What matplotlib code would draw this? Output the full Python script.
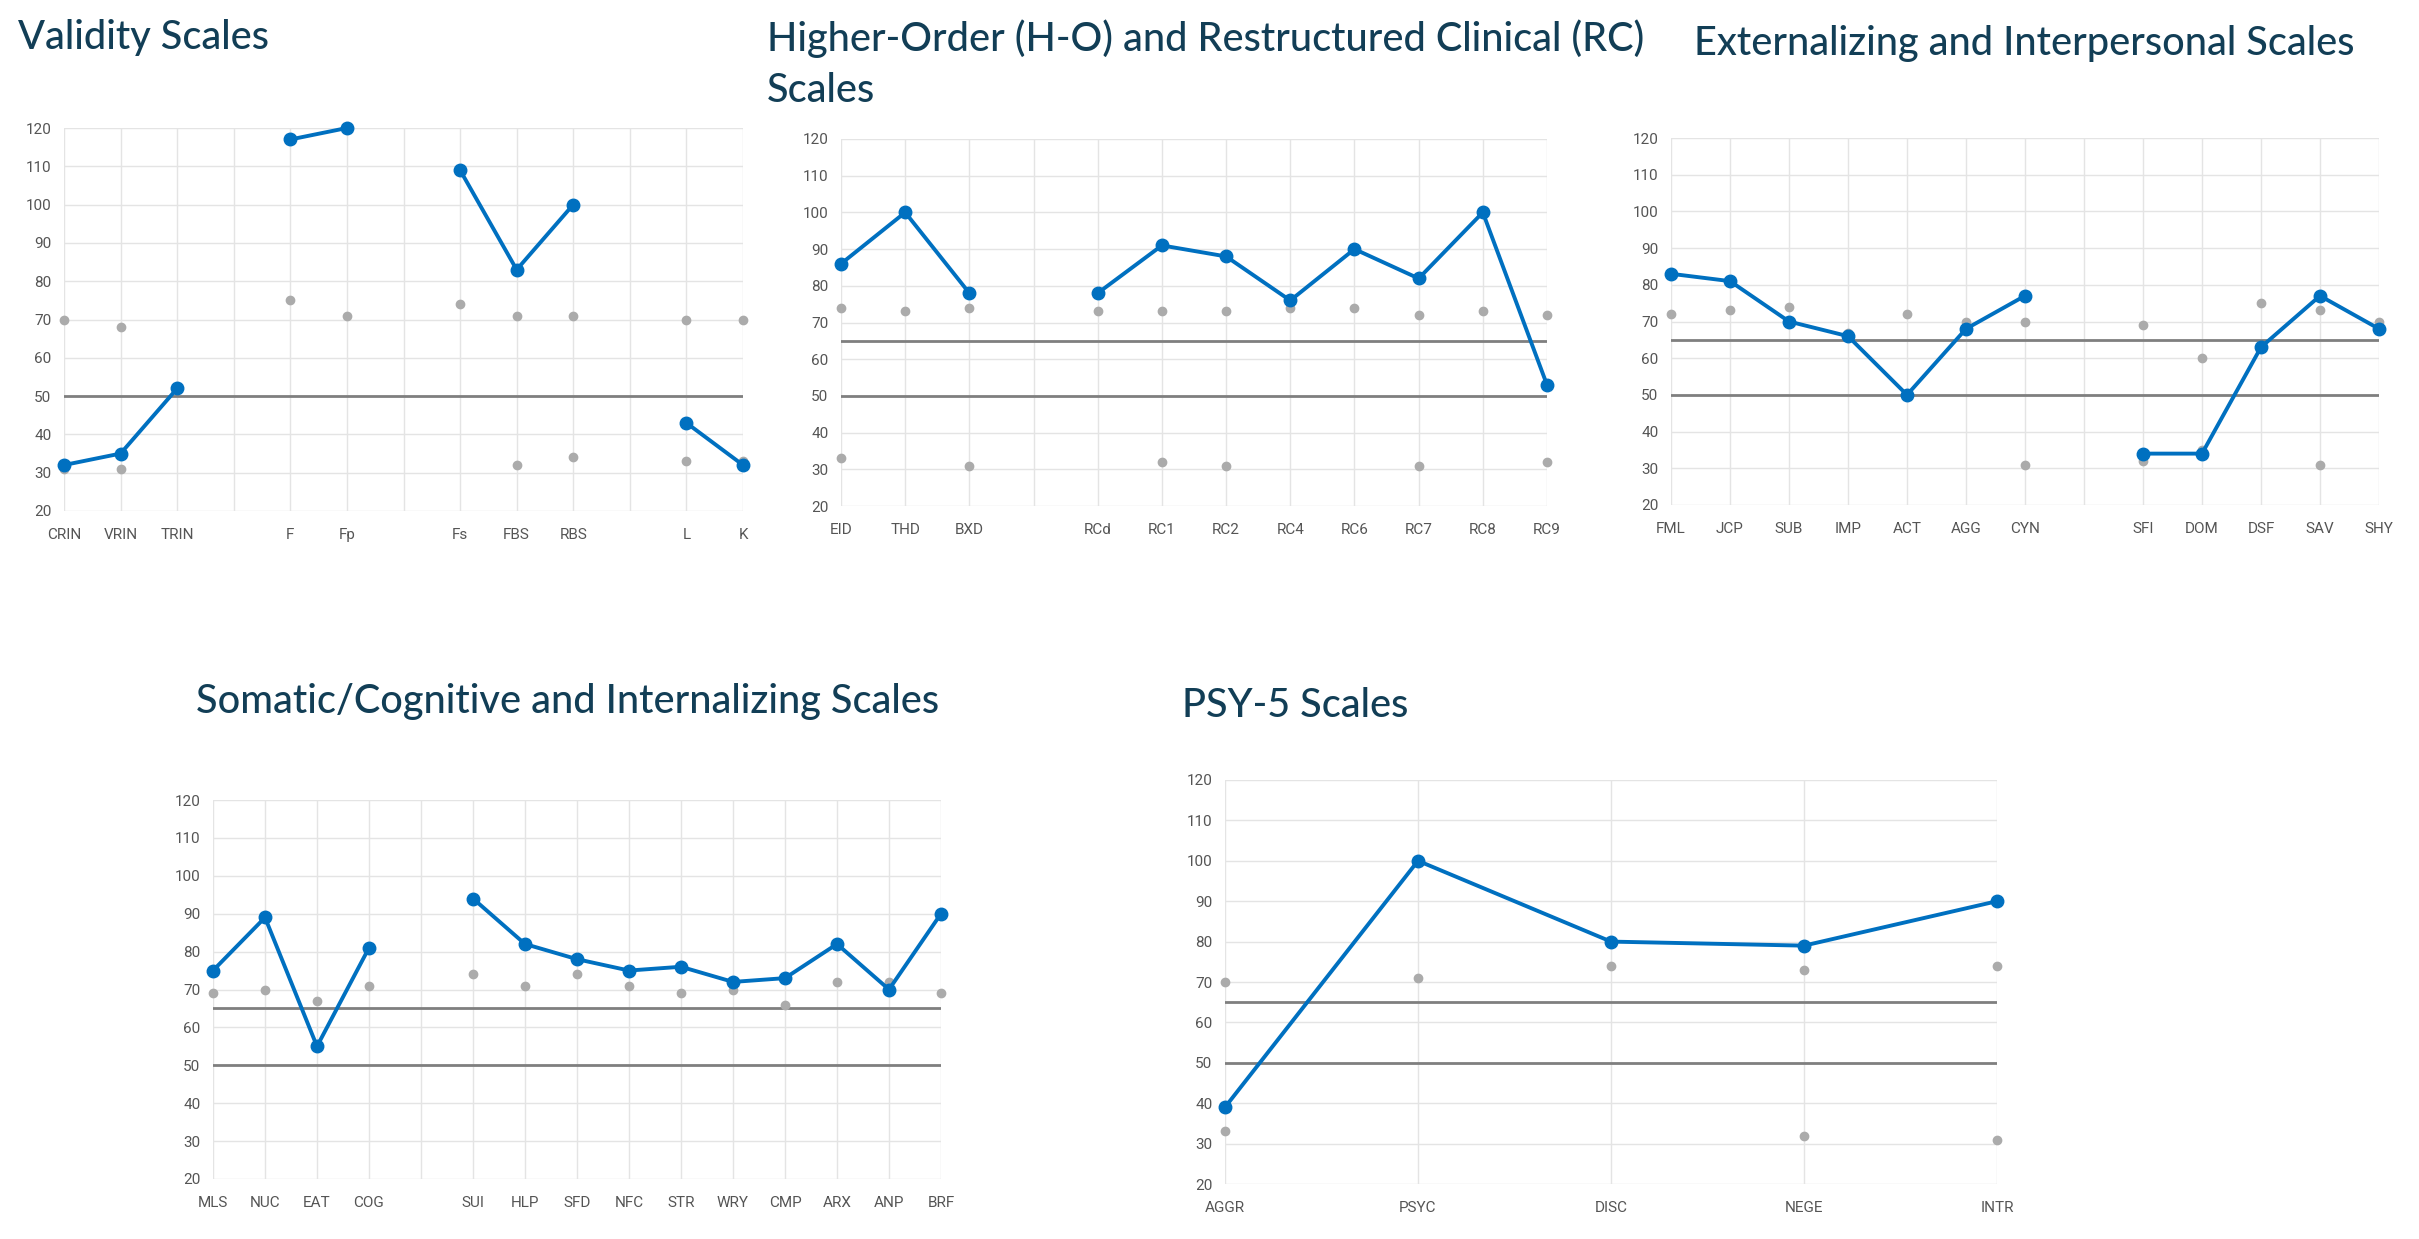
import numpy as np
import matplotlib
matplotlib.use("Agg")
import matplotlib.pyplot as plt

nan = np.nan

validity_labels = ["CRIN", "VRIN", "TRIN", "", "F", "Fp", "", "Fs", "FBS", "RBS", "", "L", "K"]
validity_score = [32, 35, 52, nan, 117, 120, nan, 109, 83, 100, nan, 43, 32]
validity_ref_hi = [70, 68, nan, nan, 75, 71, nan, 74, 71, 71, nan, 70, 70]
validity_ref_lo = [31, 31, nan, nan, nan, nan, nan, nan, 32, 34, nan, 33, 33]

ho_rc_labels = ["EID", "THD", "BXD", "", "RCd", "RC1", "RC2", "RC4", "RC6", "RC7", "RC8", "RC9"]
ho_rc_score = [86, 100, 78, nan, 78, 91, 88, 76, 90, 82, 100, 53]
ho_rc_ref_hi = [74, 73, 74, nan, 73, 73, 73, 74, 74, 72, 73, 72]
ho_rc_ref_lo = [33, nan, 31, nan, nan, 32, 31, nan, nan, 31, nan, 32]

ext_labels = ["FML", "JCP", "SUB", "IMP", "ACT", "AGG", "CYN", "", "SFI", "DOM", "DSF", "SAV", "SHY"]
ext_score = [83, 81, 70, 66, 50, 68, 77, nan, 34, 34, 63, 77, 68]
ext_ref_hi = [72, 73, 74, 67, 72, 70, 70, nan, 69, 60, 75, 73, 70]
ext_ref_lo = [nan, nan, nan, nan, nan, nan, 31, nan, 32, 35, nan, 31, nan]

som_labels = ["MLS", "NUC", "EAT", "COG", "", "SUI", "HLP", "SFD", "NFC", "STR", "WRY", "CMP", "ARX", "ANP", "BRF"]
som_score = [75, 89, 55, 81, nan, 94, 82, 78, 75, 76, 72, 73, 82, 70, 90]
som_ref_hi = [69, 70, 67, 71, nan, 74, 71, 74, 71, 69, 70, 66, 72, 72, 69]
som_ref_lo = [nan] * 15

psy5_labels = ["AGGR", "PSYC", "DISC", "NEGE", "INTR"]
psy5_score = [39, 100, 80, 79, 90]
psy5_ref_hi = [70, 71, 74, 73, 74]
psy5_ref_lo = [33, nan, nan, 32, 31]

W, H = 2419, 1239
BLUE = "#0070C0"
DOT = "#ABABAB"
TITLE_COL = "#123E56"
TICK_COL = "#555555"
tick_font = ["Liberation Sans Narrow", "Roboto", "DejaVu Sans"]
title_font = ["Lato", "DejaVu Sans"]

fig = plt.figure(figsize=(W / 100, H / 100), dpi=100)
fig.patch.set_facecolor("white")


def px_axes(left, right, top, bottom):
    return fig.add_axes([left / W, 1 - bottom / H, (right - left) / W, (bottom - top) / H])


def profile(ax, labels, score, ref_hi, ref_lo, cutoffs):
    x = np.arange(len(labels))
    ax.set_xlim(0, len(labels) - 1)
    ax.set_ylim(20, 120)
    ax.set_yticks(range(20, 121, 10))
    ax.set_xticks(x)
    ax.set_xticklabels(labels)
    ax.grid(True, color="#E4E4E4", linewidth=1.0)
    ax.set_axisbelow(True)
    for s in ax.spines.values():
        s.set_visible(False)
    ax.tick_params(length=0, colors=TICK_COL, labelsize=11)
    ax.tick_params(axis="x", pad=12)
    ax.tick_params(axis="y", pad=9)
    for t in ax.get_xticklabels() + ax.get_yticklabels():
        t.set_family(tick_font)
    for c in cutoffs:
        ax.axhline(c, color="#7F7F7F", linewidth=2.0, zorder=2)
    ax.plot(x, ref_hi, "o", color=DOT, markersize=6, zorder=3, clip_on=False)
    ax.plot(x, ref_lo, "o", color=DOT, markersize=6, zorder=3, clip_on=False)
    ax.plot(x, score, "-o", color=BLUE, linewidth=2.8, markersize=9, zorder=4, clip_on=False)


def title(px_x, px_y, text):
    fig.text(px_x / W, 1 - px_y / H, text, family=title_font, fontsize=28.5,
             fontweight="medium", color=TITLE_COL, ha="left", va="center",
             linespacing=1.45)


profile(px_axes(64, 743, 128, 511), validity_labels, validity_score,
        validity_ref_hi, validity_ref_lo, [50])
profile(px_axes(841, 1547, 139, 506), ho_rc_labels, ho_rc_score,
        ho_rc_ref_hi, ho_rc_ref_lo, [65, 50])
profile(px_axes(1671, 2379, 138, 505), ext_labels, ext_score,
        ext_ref_hi, ext_ref_lo, [65, 50])
profile(px_axes(213, 941, 800, 1179), som_labels, som_score,
        som_ref_hi, som_ref_lo, [65, 50])
profile(px_axes(1225, 1997, 780, 1184), psy5_labels, psy5_score,
        psy5_ref_hi, psy5_ref_lo, [65, 50])

title(18, 37, "Validity Scales")
title(767, 64, "Higher-Order (H-O) and Restructured Clinical (RC)\nScales")
title(1694, 44, "Externalizing and Interpersonal Scales")
title(196, 701, "Somatic/Cognitive and Internalizing Scales")
title(1182, 705, "PSY-5 Scales")

fig.savefig("out.png", dpi=100, facecolor="white")
